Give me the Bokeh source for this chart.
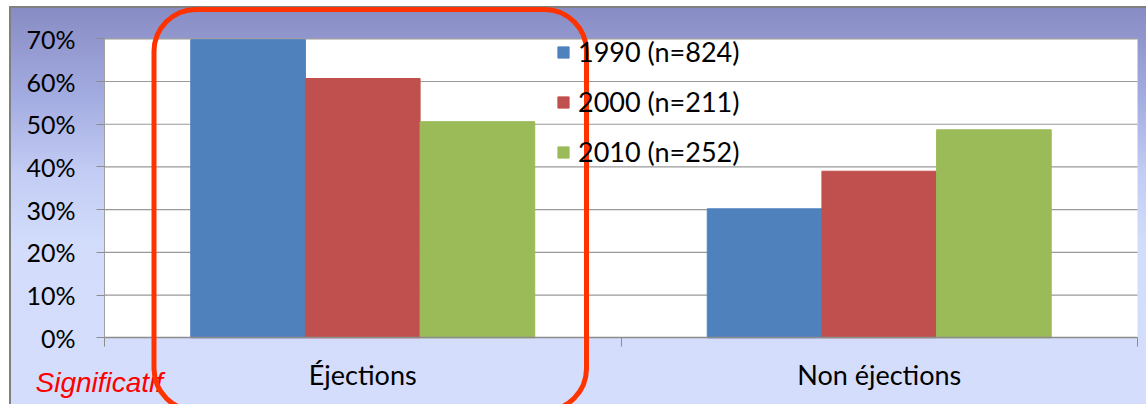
from bokeh.plotting import figure
from bokeh.models import (ColumnDataSource, Range1d, FixedTicker, Legend, LegendItem,
                          BoxAnnotation, Label)
from bokeh.embed import file_html
from bokeh.resources import INLINE

# ---- data ----
categories = ["Éjections", "Non éjections"]
series_names = ["1990 (n=824)", "2000 (n=211)", "2010 (n=252)"]
v1990 = [69.8, 30.2]
v2000 = [60.7, 39.0]
v2010 = [50.6, 48.7]
y_ticks = [0, 10, 20, 30, 40, 50, 60, 70]
colors = ["#4f81bd", "#c0504d", "#9bbb59"]

# ---- layout (pixels) ----
W, H = 1146, 404
PL, PR, PT, PB = 104.0, 1137.0, 38.3, 337.3   # plot area edges
FONT = "Lato"
BAR_W = 0.222

ncat = len(categories)
ymax = y_ticks[-1]
ppx = (PR - PL) / ncat
ppy = (PB - PT) / ymax


def dx(px):
    return (px - PL) / ppx


def dy(py):
    return (PB - py) / ppy


p = figure(output_backend="svg", toolbar_location=None, width=W, height=H, min_border=0,
           x_range=Range1d(dx(0), dx(W)), y_range=Range1d(dy(H), dy(0)))
p.border_fill_color = None
p.background_fill_color = None
p.outline_line_color = None
p.styles = {
    "background-image": ("linear-gradient(#808080, #808080), linear-gradient(#808080, #808080), "
                         "linear-gradient(to bottom, #888cc4 0%, #a3ace0 22%, #c4cef5 42%, "
                         "#d3ddfb 60%, #d4defc 100%)"),
    "background-position": "9px 6px, 9px 6px, 11px 8px",
    "background-size": "100% 2px, 2px 100%, 100% 100%",
    "background-repeat": "no-repeat",
    "background-color": "white",
}

# white plot area
p.add_layout(BoxAnnotation(left=0, right=ncat, bottom=0, top=ymax, fill_color="white",
                           fill_alpha=1.0, line_color=None, level="underlay"))

# horizontal grid lines at the y ticks, spanning the plot area
gt = [t for t in y_ticks if t > 0]
p.segment(x0=[0] * len(gt), x1=[ncat] * len(gt), y0=gt, y1=gt,
          line_color="#999999", line_width=1.2)

renderers = []
for k, (name, vals, col) in enumerate(zip(series_names, [v1990, v2000, v2010], colors)):
    xs = [i + 0.5 + (k - 1) * BAR_W for i in range(ncat)]
    src = ColumnDataSource(dict(x=xs, top=vals))
    r = p.vbar(x="x", top="top", width=BAR_W, source=src, fill_color=col,
               line_color=col, line_width=1)
    renderers.append((name, r))

# axes
xa = p.xaxis[0]
xa.fixed_location = 0
xa.bounds = (0, ncat)
xa.ticker = FixedTicker(ticks=[i + 0.5 for i in range(ncat)],
                        minor_ticks=list(range(ncat + 1)))
xa.major_label_overrides = {i + 0.5: c for i, c in enumerate(categories)}
xa.major_tick_line_color = None
xa.minor_tick_line_color = "#8c8c8c"
xa.minor_tick_out = 9
xa.minor_tick_in = 0
xa.axis_line_color = "#8c8c8c"
xa.axis_line_width = 1.5
xa.major_label_text_font = FONT
xa.major_label_text_font_size = "27px"
xa.major_label_text_color = "black"
xa.major_label_standoff = 11

ya = p.yaxis[0]
ya.fixed_location = 0
ya.bounds = (0, ymax)
ya.ticker = FixedTicker(ticks=y_ticks)
ya.major_label_overrides = {t: f"{t}%" for t in y_ticks}
ya.major_tick_out = 8
ya.major_tick_in = 0
ya.major_tick_line_color = "#8c8c8c"
ya.minor_tick_line_color = None
ya.axis_line_color = "#a0a0a0"
ya.major_label_text_font = FONT
ya.major_label_text_font_size = "25px"
ya.major_label_text_color = "black"
ya.major_label_standoff = 21

p.xgrid.grid_line_color = None
p.ygrid.grid_line_color = None

legend = Legend(items=[LegendItem(label=n, renderers=[r]) for n, r in renderers],
                location=(556, H - 168.2), orientation="vertical",
                label_text_font=FONT, label_text_font_size="27px", label_text_color="black",
                glyph_width=14, glyph_height=14, label_standoff=8, label_height=33,
                spacing=17, padding=0, margin=0,
                background_fill_alpha=0, border_line_color=None)
p.add_layout(legend, "center")

# annotations
sig = Label(x=dx(35), y=dy(381.5), text="Significatif",
            text_color="#ff0000", text_font="Liberation Sans", text_font_style="italic",
            text_font_size="28px", text_baseline="alphabetic", text_align="left")
p.add_layout(sig)

box = BoxAnnotation(left=dx(153.5), right=dx(586), top=dy(9), bottom=dy(410),
                    fill_alpha=0, line_color="#ff3300", line_alpha=1.0, line_width=5,
                    border_radius=42)
p.add_layout(box)

open("out.html", "w").write(file_html(p, INLINE))
